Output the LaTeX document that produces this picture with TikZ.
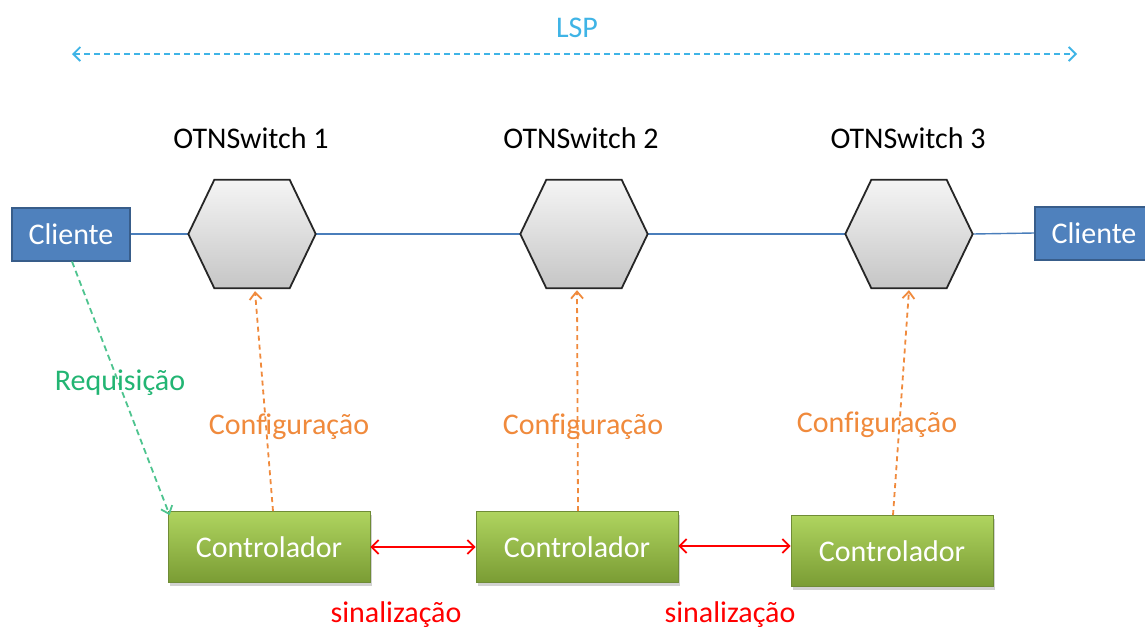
\documentclass[tikz,border=0pt]{standalone}
\usepackage{fontspec}
\setmainfont[Ligatures=NoCommon]{Carlito}
\usetikzlibrary{arrows.meta,shadows,calc}
\definecolor{cliblue}{HTML}{4F81BD}
\definecolor{cliedge}{HTML}{385D8A}
\definecolor{ctrtop}{HTML}{AFD45F}
\definecolor{ctrbot}{HTML}{7A9C34}
\definecolor{ctredge}{HTML}{6F8C36}
\definecolor{lspblue}{HTML}{3FB4E6}
\definecolor{cfgorange}{HTML}{F08A3C}
\definecolor{reqgreen}{HTML}{22B573}
\definecolor{linkblue}{HTML}{4A7EBB}
\tikzset{
  txt/.style={font=\fontsize{30}{32}\selectfont},
  cliente/.style={txt, draw=cliedge, line width=2pt, fill=cliblue, text=white, minimum width=118, minimum height=53, inner sep=0pt},
  ctrl/.style={txt, draw=ctredge, line width=0.8pt, top color=ctrtop, bottom color=ctrbot, text=white, minimum width=202, minimum height=71, inner sep=0pt, drop shadow={shadow xshift=2pt, shadow yshift=-3pt, opacity=0.35}},
  hexbox/.style={minimum width=127, minimum height=108, inner sep=0pt, draw=none},
  hexshape/.style={draw=black!85, line width=1.8pt, top color=gray!8, bottom color=gray!45},
  link/.style={linkblue, line width=1.4pt},
  cfg/.style={cfgorange, line width=1.8pt, dash pattern=on 5pt off 4pt, -{Straight Barb[length=7pt, width=12pt]}},
  req/.style={reqgreen!80!white, line width=1.8pt, dash pattern=on 6pt off 4pt, -{Straight Barb[length=7pt, width=12pt]}},
  sig/.style={red, line width=1.8pt, {Straight Barb[length=7pt, width=14pt]}-{Straight Barb[length=7pt, width=14pt]}},
  lsp/.style={lspblue, line width=1.8pt, dash pattern=on 6pt off 4pt, {Straight Barb[length=7pt, width=14pt]}-{Straight Barb[length=7pt, width=14pt]}},
  lbl/.style={txt, inner sep=0pt}
}
\newcommand{\hexdraw}[1]{\draw[hexshape] (#1.west) -- ([xshift=26]#1.north west) -- ([xshift=-26]#1.north east) -- (#1.east) -- ([xshift=-26]#1.south east) -- ([xshift=26]#1.south west) -- cycle;}
\begin{document}
\begin{tikzpicture}[x=1pt,y=-1pt]
\useasboundingbox (0,0) rectangle (1145,630);
\fill[white] (0,0) rectangle (1145,630);
% nodes
\node[cliente] (c1) at (71,234) {Cliente};
\node[cliente] (c2) at (1094,233) {Cliente};
\node[hexbox] (h1) at (252,234) {};
\node[hexbox] (h2) at (584,234) {};
\node[hexbox] (h3) at (909,234) {};
% links
\draw[link] (c1) -- (h1);
\draw[link] (h1) -- (h2);
\draw[link] (h2) -- (h3);
\draw[link] (h3.east) -- (c2.west);
\hexdraw{h1}
\hexdraw{h2}
\hexdraw{h3}
% labels
\node[lbl] (s1) at (251,138) {OTNSwitch 1};
\node[lbl] (s2) at (581,138) {OTNSwitch 2};
\node[lbl] (s3) at (908,138) {OTNSwitch 3};
\node[lbl, text=lspblue] (lsp) at (577,28) {LSP};
\coordinate (lspL) at (72,54);
\coordinate (lspR) at (1077,54);
\draw[lsp] (lspL) -- (lspR);
% controllers
\node[ctrl] (k1) at (269,547) {Controlador};
\node[ctrl] (k2) at (577,547) {Controlador};
\node[ctrl] (k3) at (892,551) {Controlador};
% signalling
\draw[sig] (k1.east) -- (k2.west);
\draw[sig] ([yshift=1]k2.east) -- ([yshift=1]k2.east -| k3.west);
\node[lbl, text=red] (g1) at (396,615) {sinalização};
\node[lbl, text=red] (g2) at (730,615) {sinalização};
% configuration
\draw[cfg] ([xshift=4]k1.north) -- ([xshift=3,yshift=-3]h1.south);
\draw[cfg] ([xshift=1]k2.north) -- ([xshift=-7,yshift=-2]h2.south);
\draw[cfg] ([xshift=1]k3.north) -- ([xshift=0,yshift=-2]h3.south);
\node[lbl, text=cfgorange] (f1) at (289,427) {Configuração};
\node[lbl, text=cfgorange] (f2) at (583,427) {Configuração};
\node[lbl, text=cfgorange] (f3) at (877,425) {Configuração};
% request
\draw[req] ([xshift=1]c1.south) -- ([xshift=2,yshift=-4]k1.north west);
\node[lbl, text=reqgreen] (r) at (120,383) {Requisição};
\end{tikzpicture}
\end{document}
